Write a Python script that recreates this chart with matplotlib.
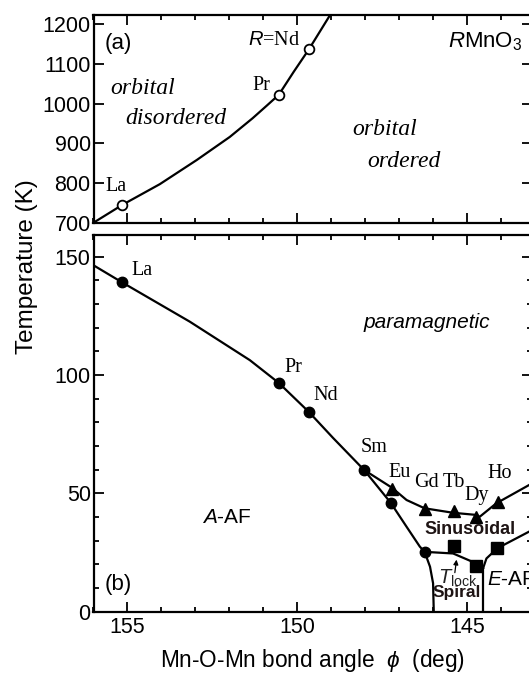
import numpy as np
import matplotlib
matplotlib.use("Agg")
import matplotlib.pyplot as plt
from matplotlib.ticker import MultipleLocator

SANS = "Liberation Sans"
SERIF = "Liberation Serif"
plt.rcParams["font.family"] = [SANS, "DejaVu Sans"]
plt.rcParams["mathtext.fontset"] = "custom"
plt.rcParams["mathtext.rm"] = SANS
plt.rcParams["mathtext.it"] = SANS + ":italic"

# (a) orbital ordering temperature T_OO
oo_names = ["La", "Pr", "Nd"]
oo_phi = [155.15, 150.55, 149.66]
oo_temp = [745, 1022, 1137]
oo_line_phi = [156.0, 155.15, 154.05, 152.96, 151.99, 151.32, 150.9, 150.55, 150.11, 149.66, 149.04]
oo_line_temp = [700, 745, 797, 858, 916, 963, 995, 1022, 1080, 1137, 1223]

# (b) A-AF Neel temperature, La..Sm, then the A-AF branch down to 0 K
tn_a_phi = [155.16, 150.55, 149.67, 148.04, 147.26, 146.26]
tn_a_temp = [139.2, 96.7, 84.5, 59.9, 46.1, 25.3]
tn_line_phi = [156.0, 155.16, 153.17, 151.4, 150.55, 149.67, 148.95, 148.04]
tn_line_temp = [146.4, 139.2, 122.6, 106.3, 96.7, 84.5, 73.4, 59.9]
aaf_line_phi = [148.04, 147.26, 146.79, 146.4, 146.26, 146.1, 146.01, 145.99]
aaf_line_temp = [59.9, 46.1, 35.9, 27.5, 25.3, 19.0, 12.0, 0.0]

# sinusoidal ordering T_N (triangles)
sin_phi = [147.22, 146.26, 145.39, 144.74, 144.1]
sin_temp = [52.0, 43.5, 42.5, 40.0, 46.5]
sin_line_phi = [148.04, 147.22, 146.79, 146.26, 145.42, 144.74, 144.64, 144.15, 143.19]
sin_line_temp = [59.9, 52.4, 47.2, 43.7, 41.8, 40.9, 40.1, 45.8, 53.5]

# lock-in / E-AF transitions (squares)
lock_phi = [145.39, 144.74, 144.12]
lock_temp = [27.8, 19.3, 26.8]
lock_line_phi = [146.26, 145.42, 144.74, 144.54]
lock_line_temp = [25.3, 24.6, 20.4, 18.3]
eaf_vert_phi = [144.54, 144.54]
eaf_vert_temp = [18.3, 0.0]
eaf_line_phi = [144.54, 144.44, 144.12, 143.19]
eaf_line_temp = [18.3, 22.5, 26.8, 33.8]

b_names = ["La", "Pr", "Nd", "Sm", "Eu", "Gd", "Tb", "Dy", "Ho"]
b_name_phi = [154.58, 150.11, 149.17, 147.76, 146.99, 146.2, 145.4, 144.73, 144.05]
b_name_temp = [144.4, 103.4, 91.5, 69.2, 59.0, 54.8, 54.8, 49.3, 58.6]

LW = 1.6
fig = plt.figure(figsize=(5.29, 6.73), dpi=100)
left, width = 93.5 / 529, (532 - 93.5) / 529
ax_a = fig.add_axes([left, 0.6691, width, 0.3086])
ax_b = fig.add_axes([left, 0.0911, width, 0.5590])

for ax in (ax_a, ax_b):
    ax.set_xlim(156, 143.1)
    ax.xaxis.set_major_locator(MultipleLocator(5))
    ax.xaxis.set_minor_locator(MultipleLocator(1))
    ax.tick_params(which="both", direction="in", top=True, right=True, width=1.3,
                   labelsize=15.5, pad=2)
    ax.tick_params(axis="x", which="both", pad=4)
    ax.tick_params(which="major", length=7)
    ax.tick_params(which="minor", length=3.8)
    for s in ax.spines.values():
        s.set_linewidth(1.6)

# panel (a)
ax_a.set_ylim(700, 1223)
ax_a.yaxis.set_major_locator(MultipleLocator(100))
ax_a.tick_params(labelbottom=False)
ax_a.plot(oo_line_phi, oo_line_temp, color="black", lw=LW, solid_joinstyle="round")
ax_a.plot(oo_phi, oo_temp, "o", ms=7, mfc="white", mec="black", mew=1.3)
ax_a.text(155.67, 1152, "(a)", fontsize=16, va="center", ha="left")
ax_a.text(155.34, 790, "La", family=SERIF, fontsize=14.5, ha="center", va="center")
ax_a.text(151.05, 1046, "Pr", family=SERIF, fontsize=14.5, ha="center", va="center")
ax_a.text(149.93, 1158, r"$\it{R}$=Nd", family=SERIF, fontsize=14.5, ha="right", va="center")
ax_a.text(154.54, 1039, "orbital", family=SERIF, style="italic", fontsize=17,
          ha="center", va="center")
ax_a.text(153.59, 963, "disordered", family=SERIF, style="italic", fontsize=17,
          ha="center", va="center")
ax_a.text(147.43, 934, "orbital", family=SERIF, style="italic", fontsize=17,
          ha="center", va="center")
ax_a.text(146.88, 854, "ordered", family=SERIF, style="italic", fontsize=17,
          ha="center", va="center")
ax_a.text(144.49, 1155, r"$R$MnO$_3$", fontsize=16, ha="center", va="center")

# panel (b)
ax_b.set_ylim(0, 159)
ax_b.yaxis.set_major_locator(MultipleLocator(50))
ax_b.yaxis.set_minor_locator(MultipleLocator(10))
for xs, ys in [(tn_line_phi, tn_line_temp), (aaf_line_phi, aaf_line_temp),
               (sin_line_phi, sin_line_temp), (lock_line_phi, lock_line_temp),
               (eaf_vert_phi, eaf_vert_temp), (eaf_line_phi, eaf_line_temp)]:
    ax_b.plot(xs, ys, color="black", lw=LW, solid_joinstyle="round")
ax_b.plot(tn_a_phi, tn_a_temp, "o", ms=7.5, color="black")
ax_b.plot(sin_phi, sin_temp, "^", ms=8, color="black")
ax_b.plot(lock_phi, lock_temp, "s", ms=8, color="black")

for name, x, y in zip(b_names, b_name_phi, b_name_temp):
    ax_b.text(x, y, name, family=SERIF, fontsize=14.5, ha="center", va="center")

ax_b.text(146.19, 122.4, "paramagnetic", style="italic", fontsize=15,
          ha="center", va="center")
ax_b.text(152.08, 40.0, r"$A$-AF", fontsize=15, ha="center", va="center")
ax_b.text(155.67, 11.3, "(b)", fontsize=16, ha="left", va="center")
ax_b.text(144.93, 34.9, "Sinusoidal", fontsize=13, fontweight="bold",
          color="#1e1414", ha="center", va="center")
ax_b.text(145.87, 14.2, r"$T_{\rm lock}$", fontsize=14.5, ha="left", va="center",
          color="#222222")
ax_b.text(145.31, 7.9, "Spiral", fontsize=12.5, fontweight="bold",
          color="#1e1414", ha="center", va="center")
ax_b.text(144.43, 13.4, r"$E$-AF", fontsize=15, ha="left", va="center")
ax_b.annotate("", xy=(145.32, 22.0), xytext=(145.37, 16.5),
              arrowprops=dict(arrowstyle="-|>", color="black", lw=0.9,
                              mutation_scale=7, shrinkA=0, shrinkB=0))

fig.text(27 / 529, 1 - 267 / 673, "Temperature (K)", rotation=90, fontsize=17.5,
         ha="center", va="center")
fig.text(312.5 / 529, 1 - 660 / 673, r"Mn-O-Mn bond angle  $\phi$  (deg)",
         fontsize=16.3, ha="center", va="center")

fig.savefig("out.png", dpi=100)
